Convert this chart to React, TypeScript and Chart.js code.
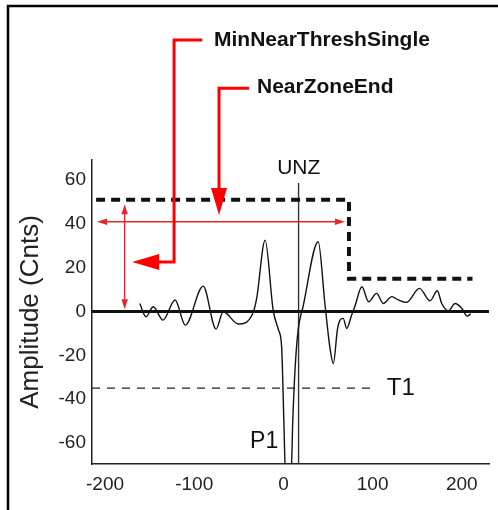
import React, { useEffect, useRef } from "react";
import { Chart, registerables } from "chart.js";

Chart.register(...registerables);

const FONT = '"Liberation Sans", Arial, Helvetica, sans-serif';

// ---- axes ----
const xTickValues = [-200, -100, 0, 100, 200];
const yTickValues = [-60, -40, -20, 0, 20, 40, 60];
const xRange = [-214.6, 230.5];
const yRange = [-69.6, 69.2];

// ---- waveform (amplitude in counts vs. position) ----
const waveX = [
  -161, -154, -146, -135, -121.5, -110, -90, -75.5, -67.5, -50.5, -34, -30, -20.5, -11.5, -5.5, -2,
  0.5, 2.5, 8.5, 10.5, 13, 16.5, 22, 39, 46.5, 52, 56, 60.5, 63.5, 67, 71, 76.5, 80, 88, 95.5, 104.5, 112,
  121.5, 129, 138, 152.5, 164.5, 172.5, 177.5, 185, 192.5, 200, 206, 210,
];
const waveY = [
  3.7, -2.4, 2.2, -3.9, 5.3, -6.2, 11.6, -8.0, -0.1, -5.7, -0.5, 6.0, 32.6, 0.7, -8.4, -16,
  -50, -76, -76, -50, -26.7, -8.4, 2.2, 31.9, 3.7, -16, -23.7, -8.4, -3.9, -3.1, -7.7, -1.6, 2.2, 11.3, 4.5, 8.3, 3.7,
  6.8, 5.3, 4.2, 10.6, 4.9, 9.5, 3.7, 0.4, 3.7, 1.5, -2.1, -1.1,
];

// ---- threshold / reference lines ----
const nearThreshX = [-210, 73.5, 73.5, 212];
const nearThreshY = [51, 51, 15, 15];
const t1X = [-214.6, 100];
const t1Y = [-35, -35];
const unzX = [17, 17];
const unzY = [58.7, -69.6];
const zeroX = [-214.6, 230.5];
const zeroY = [0, 0];

// ---- annotation arrows (data units) ----
const zoneArrowX = [-209, 69];
const zoneArrowY = [41, 41];
const threshArrowX = [-178, -178];
const threshArrowY = [49, 1];
const minNearLeaderX = [-91, -122.6, -122.6, -169.6];
const minNearLeaderY = [124, 124, 22.6, 22.6];
const nearZoneLeaderX = [-38.6, -72.2, -72.2];
const nearZoneLeaderY = [102, 102, 44.1];

// ---- text labels (data units) ----
const labelText = ["MinNearThreshSingle", "NearZoneEnd", "UNZ", "T1", "P1"];
const labelX = [-77.8, -29.6, 17.2, 116, -37.4];
const labelY = [124, 102.5, 65.5, -35, -59.6];

const RED = "#ff0000";
const THIN_RED = "#e3262c";

const pts = (xs: number[], ys: number[]) => xs.map((x, i) => ({ x, y: ys[i] }));

const annotationPlugin = {
  id: "annotations",
  beforeDraw(chart: any) {
    const { ctx, width, height } = chart;
    ctx.save();
    ctx.fillStyle = "#ffffff";
    ctx.fillRect(0, 0, width, height);
    ctx.strokeStyle = "#000";
    ctx.lineWidth = 2.5;
    ctx.beginPath();
    ctx.moveTo(8, height);
    ctx.lineTo(8, 6);
    ctx.lineTo(width, 6);
    ctx.stroke();
    ctx.restore();
  },
  afterDatasetsDraw(chart: any) {
    const { ctx } = chart;
    const sx = chart.scales.x;
    const sy = chart.scales.y;
    const P = (x: number, y: number) => [sx.getPixelForValue(x), sy.getPixelForValue(y)];
    ctx.save();

    const head = (tip: number[], from: number[], len: number, half: number, color: string) => {
      const dx = tip[0] - from[0];
      const dy = tip[1] - from[1];
      const d = Math.hypot(dx, dy);
      const ux = dx / d;
      const uy = dy / d;
      const bx = tip[0] - ux * len;
      const by = tip[1] - uy * len;
      ctx.fillStyle = color;
      ctx.beginPath();
      ctx.moveTo(tip[0], tip[1]);
      ctx.lineTo(bx - uy * half, by + ux * half);
      ctx.lineTo(bx + uy * half, by - ux * half);
      ctx.closePath();
      ctx.fill();
      return [bx + ux * 2, by + uy * 2];
    };

    const thin = (xs: number[], ys: number[]) => {
      const a = P(xs[0], ys[0]);
      const b = P(xs[1], ys[1]);
      const a2 = head(a, b, 10, 3.2, THIN_RED);
      const b2 = head(b, a, 10, 3.2, THIN_RED);
      ctx.strokeStyle = THIN_RED;
      ctx.lineWidth = 1.3;
      ctx.beginPath();
      ctx.moveTo(a2[0], a2[1]);
      ctx.lineTo(b2[0], b2[1]);
      ctx.stroke();
    };
    thin(zoneArrowX, zoneArrowY);
    thin(threshArrowX, threshArrowY);

    const leader = (xs: number[], ys: number[]) => {
      const p = xs.map((x, i) => P(x, ys[i]));
      const n = p.length;
      const base = head(p[n - 1], p[n - 2], 27, 8, RED);
      ctx.strokeStyle = RED;
      ctx.lineWidth = 3;
      ctx.lineJoin = "miter";
      ctx.lineCap = "butt";
      ctx.beginPath();
      ctx.moveTo(p[0][0], p[0][1]);
      for (let i = 1; i < n - 1; i++) ctx.lineTo(p[i][0], p[i][1]);
      ctx.lineTo(base[0], base[1]);
      ctx.stroke();
    };
    leader(minNearLeaderX, minNearLeaderY);
    leader(nearZoneLeaderX, nearZoneLeaderY);

    const styles = [
      { font: `bold 21px ${FONT}`, align: "left" },
      { font: `bold 21px ${FONT}`, align: "left" },
      { font: `21px ${FONT}`, align: "center" },
      { font: `24px ${FONT}`, align: "left" },
      { font: `23px ${FONT}`, align: "left" },
    ];
    ctx.fillStyle = "#111";
    ctx.textBaseline = "middle";
    labelText.forEach((t, i) => {
      const [x, y] = P(labelX[i], labelY[i]);
      ctx.font = styles[i].font;
      ctx.textAlign = styles[i].align;
      ctx.fillText(t, x, y);
    });
    ctx.restore();
  },
};

export default function App() {
  const ref = useRef<HTMLCanvasElement | null>(null);

  useEffect(() => {
    if (!ref.current) return;
    const chart = new Chart(ref.current, {
      type: "line",
      data: {
        datasets: [
          {
            label: "Signal",
            data: pts(waveX, waveY),
            borderColor: "#111",
            borderWidth: 1.4,
            cubicInterpolationMode: "monotone",
            pointRadius: 0,
          },
          {
            label: "Zero",
            data: pts(zeroX, zeroY),
            borderColor: "#111",
            borderWidth: 3,
            pointRadius: 0,
          },
          {
            label: "MinNearThreshSingle",
            data: pts(nearThreshX, nearThreshY),
            borderColor: "#111",
            borderWidth: 4,
            borderDash: [9, 6],
            borderJoinStyle: "miter",
            pointRadius: 0,
          },
          {
            label: "T1",
            data: pts(t1X, t1Y),
            borderColor: "#222",
            borderWidth: 1.2,
            borderDash: [8, 7],
            pointRadius: 0,
          },
          {
            label: "UNZ",
            data: pts(unzX, unzY),
            borderColor: "#333",
            borderWidth: 1.4,
            pointRadius: 0,
          },
        ],
      },
      options: {
        responsive: false,
        animation: false,
        events: [],
        layout: { padding: { left: 0, top: 160, right: 9, bottom: 6 } },
        plugins: {
          legend: { display: false },
          tooltip: { enabled: false },
          title: { display: false },
        },
        elements: { line: { tension: 0 } },
        scales: {
          x: {
            type: "linear",
            min: xRange[0],
            max: xRange[1],
            grid: { display: false, drawTicks: false },
            border: { display: true, color: "#222", width: 1.5 },
            ticks: {
              font: { size: 19, family: FONT },
              color: "#222",
              padding: 9,
              maxRotation: 0,
              autoSkip: false,
            },
            afterBuildTicks: (s: any) => {
              s.ticks = xTickValues.map((v) => ({ value: v }));
            },
            afterFit: (s: any) => {
              s.height = 40;
            },
          },
          y: {
            type: "linear",
            min: yRange[0],
            max: yRange[1],
            grid: { display: false, drawTicks: false },
            border: { display: true, color: "#222", width: 1.5 },
            ticks: {
              font: { size: 19, family: FONT },
              color: "#222",
              padding: 6,
              autoSkip: false,
            },
            afterBuildTicks: (s: any) => {
              s.ticks = yTickValues.map((v) => ({ value: v }));
            },
            afterFit: (s: any) => {
              s.width = 92;
            },
            title: {
              display: true,
              text: "Amplitude (Cnts)",
              font: { size: 26, family: FONT },
              color: "#222",
              padding: { top: 15, bottom: 0 },
            },
          },
        },
      },
      plugins: [annotationPlugin],
    } as any);
    return () => chart.destroy();
  }, []);

  return (
    <div style={{ position: "absolute", left: 0, top: 0, width: 498, height: 510 }}>
      <canvas ref={ref} width={498} height={510} style={{ display: "block" }} />
    </div>
  );
}
